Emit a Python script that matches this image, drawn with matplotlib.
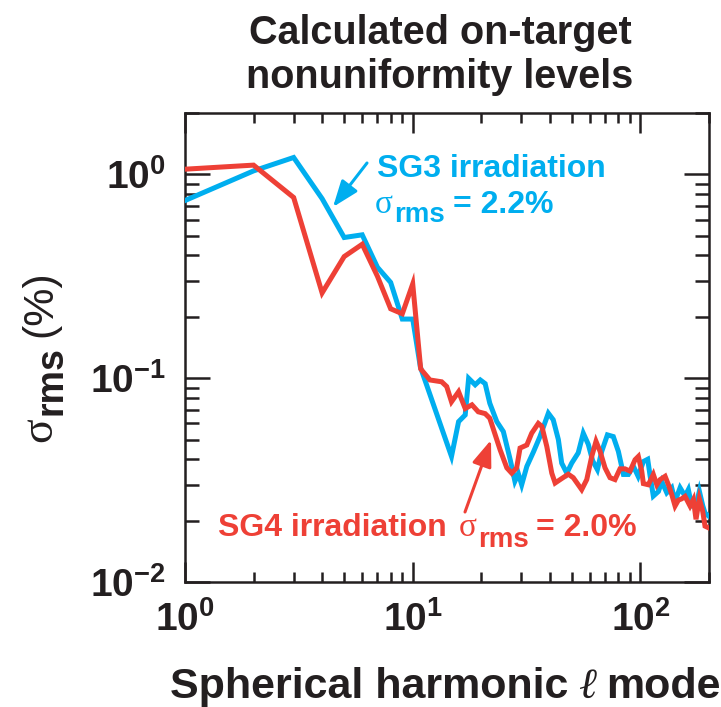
import matplotlib
matplotlib.use("Agg")
import matplotlib.pyplot as plt
import matplotlib.transforms as mtransforms
from matplotlib.ticker import NullFormatter, FixedLocator, FixedFormatter

# ---------------- data ----------------
sg3_l = [1, 2, 3, 4, 5, 6, 7, 8, 9, 10, 10.8, 14.8, 15.9, 17.0, 17.6, 18.8, 19.8, 20.8,
         21.8, 23.4, 25.0, 26.8, 28.1, 29.1, 30.1, 31.7, 33.9, 36.2, 39.4, 41.4, 43.6,
         45.1, 47.5, 49.9, 53.3, 56.1, 59.0, 61.7, 64.7, 67.6, 71.6, 76.0, 80.0, 84.2,
         88.5, 93.1, 97.7, 103, 107.6, 110.2, 113.9, 119.9, 124.1, 130.5, 137.2, 141.9,
         149.3, 157.0, 162.3, 167.9, 176.6, 181.4, 187.7, 192.1, 200]
sg3_sigma = [0.744, 1.04, 1.21, 0.76, 0.49, 0.505, 0.35, 0.295, 0.195, 0.195, 0.1136,
             0.0413, 0.0612, 0.066, 0.0998, 0.0928, 0.098, 0.094, 0.0753, 0.0612, 0.0547,
             0.0398, 0.0312, 0.034, 0.030, 0.0369, 0.0435, 0.0517, 0.0673, 0.0625, 0.050,
             0.0383, 0.0342, 0.0383, 0.043, 0.0537, 0.0474, 0.0393, 0.0356, 0.0437,
             0.0527, 0.0517, 0.0437, 0.0337, 0.0337, 0.037, 0.033, 0.039, 0.040, 0.0333,
             0.0264, 0.0278, 0.0311, 0.0274, 0.029, 0.0249, 0.029, 0.0264, 0.0284,
             0.0237, 0.0245, 0.0279, 0.0237, 0.0218, 0.021]

sg4_l = [1, 2, 3, 4, 5, 6, 7, 8, 9, 10, 10.84, 11.9, 13.4, 14.1, 14.8, 15.9, 17.0, 18.2,
         19.4, 20.8, 21.8, 24.2, 25.9, 27.2, 28.6, 29.6, 31.7, 33.3, 35.6, 36.9, 38.8,
         40.8, 42.2, 44.4, 48.2, 50.7, 55.2, 58.1, 61.1, 63.8, 66.5, 69.9, 73.5, 77.3,
         81.3, 85.5, 90.0, 94.7, 97.9, 101.3, 103.0, 108.3, 113.9, 118.0, 122.0, 128.3,
         132.7, 137.2, 141.9, 146.7, 151.8, 157.0, 165.1, 170.8, 175.4, 181.4, 187.7,
         192.1, 198]
sg4_sigma = [1.06, 1.11, 0.77, 0.262, 0.395, 0.454, 0.316, 0.219, 0.207, 0.29, 0.111,
             0.098, 0.096, 0.091, 0.0766, 0.0858, 0.071, 0.074, 0.0684, 0.067, 0.0636,
             0.0445, 0.0363, 0.0342, 0.0363, 0.0454, 0.047, 0.0537, 0.060, 0.058, 0.0462,
             0.0342, 0.0306, 0.0318, 0.0338, 0.0325, 0.0284, 0.0318, 0.0413, 0.049,
             0.0437, 0.0363, 0.0325, 0.0318, 0.0359, 0.0359, 0.035, 0.0398, 0.0413,
             0.035, 0.0304, 0.030, 0.0337, 0.030, 0.0318, 0.033, 0.030, 0.0269, 0.0236,
             0.0252, 0.0256, 0.0263, 0.0236, 0.0254, 0.0203, 0.0256, 0.0222, 0.0188,
             0.0185]

x_ticks = [1, 10, 100]
x_ticklabels = [r"$\mathbf{10^{0}}$", r"$\mathbf{10^{1}}$", r"$\mathbf{10^{2}}$"]
y_ticks = [0.01, 0.1, 1]
y_ticklabels = [r"$\mathbf{10^{-2}}$", r"$\mathbf{10^{-1}}$", r"$\mathbf{10^{0}}$"]

title_lines = ["Calculated on-target", "nonuniformity levels"]

# ---------------- style ----------------
BLUE = "#00AEEF"
RED = "#EE4036"
INK = "#231F20"
SANS = "Liberation Sans"
SERIF = ["Liberation Serif", "DejaVu Serif"]

plt.rcParams["font.family"] = [SANS, "DejaVu Sans"]
plt.rcParams["mathtext.fontset"] = "custom"
plt.rcParams["mathtext.bf"] = "Liberation Sans:bold"
plt.rcParams["mathtext.rm"] = "Liberation Sans:bold"
plt.rcParams["mathtext.it"] = "Liberation Sans:bold"

W, H = 721, 707
fig = plt.figure(figsize=(W / 100, H / 100), dpi=100)
ax = fig.add_axes([185 / W, (H - 582) / H, (709 - 185) / W, (582 - 113) / H])

ax.plot(sg3_l, sg3_sigma, color=BLUE, lw=3.6, solid_joinstyle="miter", zorder=3)
ax.plot(sg4_l, sg4_sigma, color=RED, lw=3.6, solid_joinstyle="miter", zorder=4)

ax.set_xscale("log")
ax.set_yscale("log")
ax.set_xlim(1, 200)
ax.set_ylim(0.01, 2.0)

ax.xaxis.set_major_locator(FixedLocator(x_ticks))
ax.xaxis.set_major_formatter(FixedFormatter(x_ticklabels))
ax.yaxis.set_major_locator(FixedLocator(y_ticks))
ax.yaxis.set_major_formatter(FixedFormatter(y_ticklabels))
ax.xaxis.set_minor_formatter(NullFormatter())
ax.yaxis.set_minor_formatter(NullFormatter())

for sp in ax.spines.values():
    sp.set_linewidth(1.8)
    sp.set_color(INK)

ax.tick_params(axis="both", which="both", direction="in", top=True, right=True,
               width=1.8, color=INK, labelcolor=INK, labelsize=28)
ax.tick_params(axis="x", which="major", length=14.4, pad=14)
ax.tick_params(axis="x", which="minor", length=7.2)
ax.tick_params(axis="y", which="major", length=18, pad=14)
ax.tick_params(axis="y", which="minor", length=10)

# ---------------- rich text helper ----------------
renderer = fig.canvas.get_renderer()
ident = mtransforms.IdentityTransform()


def rich(x, y, pieces, rot=0, color=INK):
    """pieces: (text, fontsize, family, weight, style, dy_px, gap_px). x,y display px."""
    pos = 0.0
    for s, size, fam, weight, style, dy, gap in pieces:
        if rot == 0:
            px, py = x + pos, y - dy
        else:
            px, py = x + dy, y + pos
        t = fig.text(px, py, s, transform=ident, ha="left", va="baseline",
                     rotation=rot, rotation_mode="anchor", fontsize=size,
                     family=fam, fontweight=weight, fontstyle=style, color=color)
        bb = t.get_window_extent(renderer)
        pos += (bb.width if rot == 0 else bb.height) + gap


# title
fig.text(440 / W, (H - 44) / H, title_lines[0], ha="center", va="baseline",
         fontsize=28.5, fontweight="bold", color=INK)
fig.text(440 / W, (H - 88) / H, title_lines[1], ha="center", va="baseline",
         fontsize=28.5, fontweight="bold", color=INK)

# x label
rich(170, H - 698, [
    ("Spherical harmonic", 31, [SANS], "bold", "normal", 0, 10),
    ("\u2113", 31, SERIF, "normal", "italic", 0, 10),
    ("mode", 31, [SANS], "bold", "normal", 0, 0),
])

# y label (rotated)
rich(51, H - 442, [
    ("\u03c3", 33, SERIF, "normal", "normal", 0, 2),
    ("rms", 27, [SANS], "bold", "normal", 11, 9),
    ("(%)", 31, [SANS], "normal", "normal", 0, 0),
], rot=90)

# SG3 annotation
fig.text(377, H - 177, "SG3 irradiation", transform=ident, ha="left", va="baseline",
         fontsize=23, fontweight="bold", color=BLUE)
rich(375, H - 213, [
    ("\u03c3", 24, SERIF, "normal", "normal", 0, 1),
    ("rms", 20, [SANS], "bold", "normal", 9, 8),
    ("= 2.2%", 23, [SANS], "bold", "normal", 0, 0),
], color=BLUE)

# SG4 annotation
rich(218, H - 536, [
    ("SG4 irradiation", 23, [SANS], "bold", "normal", 0, 12),
    ("\u03c3", 24, SERIF, "normal", "normal", 0, 1),
    ("rms", 20, [SANS], "bold", "normal", 11, 8),
    ("= 2.0%", 23, [SANS], "bold", "normal", 0, 0),
], color=RED)

# arrows
ax.annotate("", xy=(333, H - 207), xytext=(367, H - 163), xycoords="figure pixels",
            textcoords="figure pixels",
            arrowprops=dict(arrowstyle="-|>,head_length=0.8,head_width=0.3",
                            mutation_scale=20, color=BLUE, lw=2.2,
                            shrinkA=0, shrinkB=0))
ax.annotate("", xy=(491, H - 440), xytext=(465, H - 512), xycoords="figure pixels",
            textcoords="figure pixels",
            arrowprops=dict(arrowstyle="-|>,head_length=0.8,head_width=0.3",
                            mutation_scale=20, color=RED, lw=2.2,
                            shrinkA=0, shrinkB=0))

fig.savefig("out.png", dpi=100)
